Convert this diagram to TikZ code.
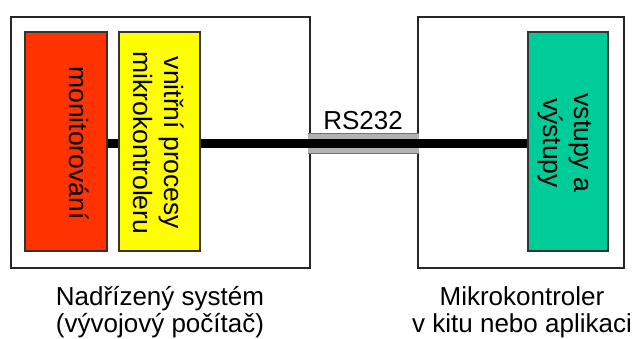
\documentclass[tikz,border=0pt]{standalone}
\usepackage{fontspec}
\setmainfont{Liberation Sans}
\definecolor{redbox}{HTML}{FF3300}
\definecolor{yelbox}{HTML}{FFFF00}
\definecolor{grnbox}{HTML}{00CC99}
\begin{document}
\begin{tikzpicture}[x=1pt,y=-1pt,
  outer/.style={draw=black!85, line width=1.4pt, fill=white},
  inner/.style={draw=black!80, line width=1.2pt},
  vtext/.style={rotate=-90, font=\fontsize{26.5}{31}\selectfont, align=center, inner sep=0},
  lbl/.style={font=\fontsize{26}{27}\selectfont, align=center, inner sep=0}]
\useasboundingbox (0,0) rectangle (634,338);
% outer boxes
\draw[outer] (11,17) rectangle (310,268);
\draw[outer] (418,17) rectangle (624,268);
% cable band
\fill[black!30] (308,133) rectangle (419,153);
\draw[black!55, line width=0.6pt] (308,133) -- (419,133) (308,153) -- (419,153);
% inner boxes
\node[inner, fill=redbox, minimum width=82, minimum height=219, inner sep=0] (mon) at (66,141.5) {};
\node[inner, fill=yelbox, minimum width=81, minimum height=219, inner sep=0] (vni) at (159.5,141.5) {};
\node[inner, fill=grnbox, minimum width=80, minimum height=219, inner sep=0] (vst) at (568,141.5) {};
\node[vtext] at (79,143) {monitorování};
\node[vtext] at (159,143) {vnitřní procesy\\mikrokontroleru};
\node[vtext] at (565,143) {vstupy a\\výstupy};
% connectors
\draw[line width=9pt] (mon.east |- 0,143) -- (vni.west |- 0,143);
\draw[line width=9pt] (vni.east |- 0,143) -- (vst.west |- 0,143);
\node[lbl] (rs) at (363,121) {RS232};
% labels
\node[lbl] (l1) at (160,312) {Nadřízený systém\\(vývojový počítač)};
\node[lbl] (l2) at (522,312) {Mikrokontroler\\v kitu nebo aplikaci};
\end{tikzpicture}
\end{document}
